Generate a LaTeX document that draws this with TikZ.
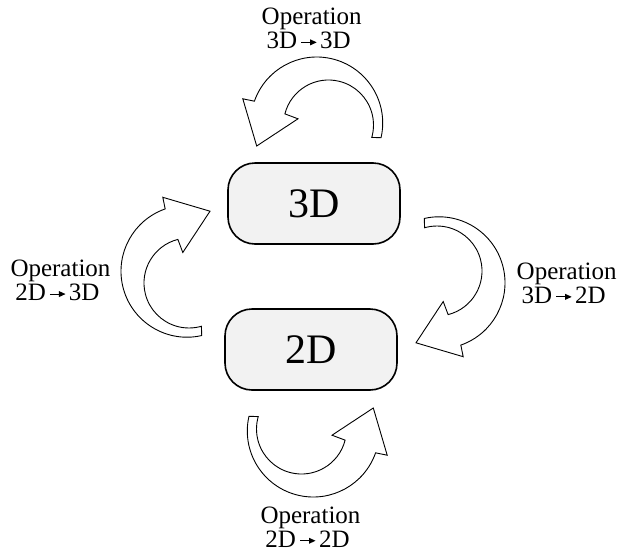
\documentclass[tikz,border=0pt]{standalone}
\usepackage{fontspec}
\setmainfont{Liberation Serif}
\definecolor{boxgray}{HTML}{F2F2F2}
\newcommand{\oparrow}{\hspace{3.5pt}\tikz[baseline=-6.3pt]{\draw[line width=1pt] (0pt,0pt) -- (10pt,0pt); \fill (9pt,3pt) -- (15.5pt,0pt) -- (9pt,-3pt) -- cycle;}\hspace{3.5pt}}
\newcommand{\OpArc}{\draw[arr] (381.03,137.73) arc[start angle=12.9,end angle=-160.7,radius=66] -- (242.8,98.8) -- (256.7,146) -- (298,118.8) -- (284.89,113.88) arc[start angle=-165.7,end angle=16,radius=45] -- cycle;}
\begin{document}
\begin{tikzpicture}[x=1pt,y=-1pt,
  box/.style={draw=black, line width=1.6pt, fill=boxgray, rounded corners=27pt, minimum width=172pt, minimum height=81pt, inner sep=0pt, font=\fontsize{42}{48}\selectfont},
  lbl/.style={align=center, inner sep=0pt, font=\fontsize{25}{24}\selectfont},
  arr/.style={draw=black, line width=0.9pt, fill=white, line join=miter}]
\useasboundingbox (0,0) rectangle (621,552);
\node[box] (n3d) at (314,203.5) {3D};
\node[box] (n2d) at (311,349.5) {2D};
\node[lbl] (lt) at (311.7,28.5) {Operation\\3D\oparrow 3D\kern6pt};
\node[lbl] (ll) at (60.5,280.2) {Operation\\2D\oparrow 3D\kern6pt};
\node[lbl] (lr) at (566.7,283) {Operation\\3D\oparrow 2D\kern6pt};
\node[lbl] (lb) at (310.5,526.8) {Operation\\2D\oparrow 2D\kern6pt};
% top: 3D -> 3D
\OpArc
% bottom: 2D -> 2D
\begin{scope}[rotate around={180:(315,277)}]
\OpArc
\end{scope}
% left: 2D -> 3D
\begin{scope}[cm={0,-1,-1,0,(64,-45.5)}]
\OpArc
\end{scope}
% right: 3D -> 2D
\begin{scope}[rotate around={180:(313,277)}]
\begin{scope}[cm={0,-1,-1,0,(64,-45.5)}]
\OpArc
\end{scope}
\end{scope}
\end{tikzpicture}
\end{document}
